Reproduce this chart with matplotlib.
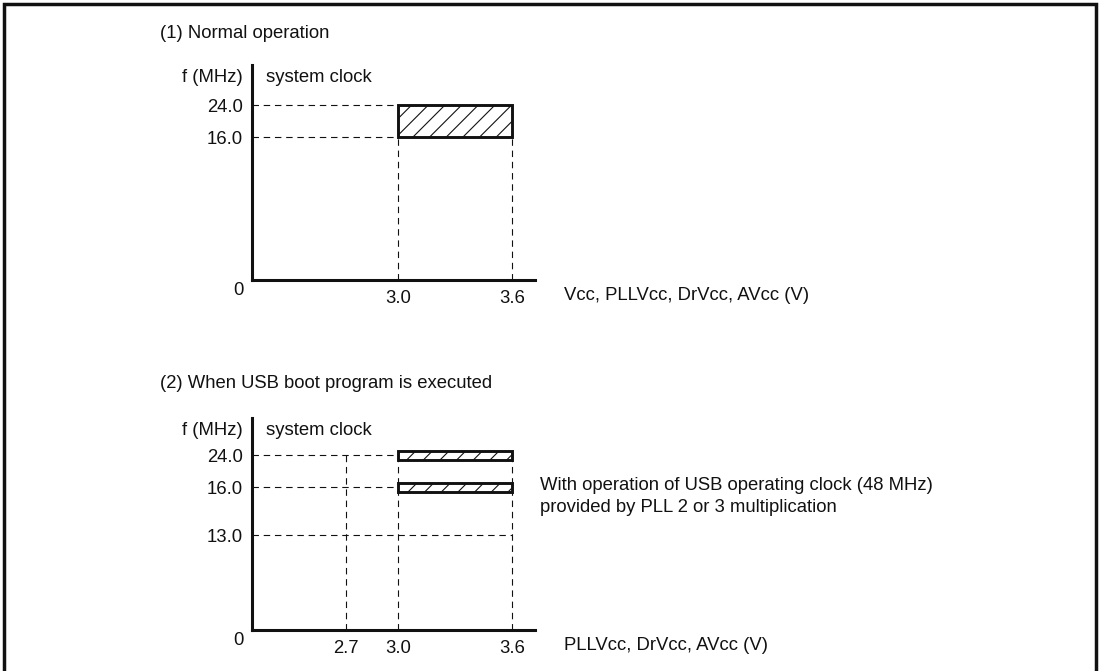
import numpy as np
import matplotlib
matplotlib.use("Agg")
import matplotlib.pyplot as plt
from matplotlib.patches import Rectangle

# ---- data ----------------------------------------------------------------
TITLE_1 = "(1) Normal operation"
TITLE_2 = "(2) When USB boot program is executed"
Y_LABEL = "f (MHz)"
Y_NOTE = "system clock"
X_LABEL_1 = "Vcc, PLLVcc, DrVcc, AVcc (V)"
X_LABEL_2 = "PLLVcc, DrVcc, AVcc (V)"
NOTE_2 = "With operation of USB operating clock (48 MHz)\nprovided by PLL 2 or 3 multiplication"

# panel 1: one operating area
V_RANGE_1 = (3.0, 3.6)
F_RANGE_1 = (16.0, 24.0)
XTICKS_1 = [3.0, 3.6]
YTICKS_1 = [16.0, 24.0]

# panel 2: two fixed frequencies + guide lines
V_RANGE_2 = (3.0, 3.6)
F_LEVELS_2 = [24.0, 16.0]
V_GUIDE_2 = 2.7
F_GUIDE_2 = 13.0
XTICKS_2 = [2.7, 3.0, 3.6]
YTICKS_2 = [13.0, 16.0, 24.0]

# ---- layout (schematic, non-linear axes) ----------------------------------
W, H = 1100, 671
X_KNOTS, X_POS = [0, 2.7, 3.0, 3.6, 5.0], [0, 94, 146, 260, 526]
Y_KNOTS, Y_POS = [0, 13, 16, 24, 60], [0, 95, 143, 175, 319]
INK = "#111111"
FS = 13.3
DASH = (0, (5.8, 4.3))

plt.rcParams["font.family"] = ["Liberation Sans", "DejaVu Sans"]
plt.rcParams["hatch.linewidth"] = 0.8
plt.rcParams["hatch.color"] = INK


def fx(v):
    return np.interp(v, X_KNOTS, X_POS)


def fx_inv(p):
    return np.interp(p, X_POS, X_KNOTS)


def fy(v):
    return np.interp(v, Y_KNOTS, Y_POS)


def fy_inv(p):
    return np.interp(p, Y_POS, Y_KNOTS)


def make_axes(fig, top, bottom, ytop):
    left, right = 252, 535
    ax = fig.add_axes([left / W, (H - bottom) / H, (right - left) / W, (bottom - top) / H])
    ax.set_xscale("function", functions=(fx, fx_inv))
    ax.set_yscale("function", functions=(fy, fy_inv))
    ax.set_xlim(0, 3.721)
    ax.set_ylim(0, ytop)
    ax.set_facecolor("none")
    for s in ("top", "right"):
        ax.spines[s].set_visible(False)
    for s in ("left", "bottom"):
        ax.spines[s].set_linewidth(2.2)
        ax.spines[s].set_color(INK)
    ax.tick_params(length=0, labelsize=FS, colors=INK)
    ax.tick_params(axis="x", pad=7.5)
    ax.tick_params(axis="y", pad=6.5)
    ax.minorticks_off()
    # corner zero, axis name and note
    ax.annotate("0", xy=(0, 0), xycoords="axes fraction", xytext=(-10, -7.5),
                textcoords="offset points", ha="center", va="center", fontsize=FS, color=INK)
    ax.annotate(Y_LABEL, xy=(0, 1), xycoords="axes fraction", xytext=(-7, -9),
                textcoords="offset points", ha="right", va="center", fontsize=FS, color=INK)
    ax.annotate(Y_NOTE, xy=(0, 1), xycoords="axes fraction", xytext=(10, -9),
                textcoords="offset points", ha="left", va="center", fontsize=FS, color=INK)
    return ax


def xname(ax, text):
    ax.annotate(text, xy=(1, 0), xycoords="axes fraction", xytext=(21, -11.5),
                textcoords="offset points", ha="left", va="center", fontsize=FS, color=INK)


fig = plt.figure(figsize=(W / 100, H / 100), dpi=100)

# outer frame (open at the bottom edge of the page crop)
fig.add_artist(Rectangle((4 / W, -0.05), 1092 / W, 1.05 - 4 / H, transform=fig.transFigure,
                         fill=False, lw=2.5, ec=INK))

fig.text(160 / W, 1 - 33 / H, TITLE_1, ha="left", va="center", fontsize=FS, color=INK)
fig.text(160 / W, 1 - 384 / H, TITLE_2, ha="left", va="center", fontsize=FS, color=INK)

# ---- panel 1 ----
ax1 = make_axes(fig, 65, 280, 34.0)
ax1.set_xticks(XTICKS_1, [f"{v:.1f}" for v in XTICKS_1])
ax1.set_yticks(YTICKS_1, [f"{v:.1f}" for v in YTICKS_1])
ax1.hlines(YTICKS_1, 0, V_RANGE_1[0], colors=INK, lw=0.8, linestyles=DASH)
ax1.vlines(V_RANGE_1, 0, F_RANGE_1[0], colors=INK, lw=0.8, linestyles=DASH)
ax1.bar(V_RANGE_1[0], F_RANGE_1[1] - F_RANGE_1[0], bottom=F_RANGE_1[0],
        width=V_RANGE_1[1] - V_RANGE_1[0], align="edge", fill=False,
        hatch="//", lw=2.1, ec=INK)
xname(ax1, X_LABEL_1)

# ---- panel 2 ----
ax2 = make_axes(fig, 418, 630, 33.25)
ax2.set_xticks(XTICKS_2, [f"{v:.1f}" for v in XTICKS_2])
ax2.set_yticks(YTICKS_2, [f"{v:.1f}" for v in YTICKS_2])
ax2.hlines(F_LEVELS_2, 0, V_RANGE_2[0], colors=INK, lw=0.8, linestyles=DASH)
ax2.hlines(F_GUIDE_2, 0, V_RANGE_2[1], colors=INK, lw=0.8, linestyles=DASH)
ax2.vlines([V_GUIDE_2, *V_RANGE_2], 0, max(F_LEVELS_2), colors=INK, lw=0.8, linestyles=DASH)
half = 4.5  # bar half-thickness in scale units (px)
for f in F_LEVELS_2:
    lo, hi = fy_inv(fy(f) - half), fy_inv(fy(f) + half)
    ax2.bar(V_RANGE_2[0], hi - lo, bottom=lo, width=V_RANGE_2[1] - V_RANGE_2[0],
            align="edge", facecolor="white", hatch="//", lw=2.1, ec=INK, zorder=3)
xname(ax2, X_LABEL_2)
ax2.annotate(NOTE_2, xy=(1, fy_inv(fy(16.0))), xycoords=("axes fraction", "data"),
             xytext=(3.5, 7), textcoords="offset points", ha="left", va="top",
             fontsize=FS, color=INK, linespacing=1.35)

fig.savefig("out.png", dpi=100)
